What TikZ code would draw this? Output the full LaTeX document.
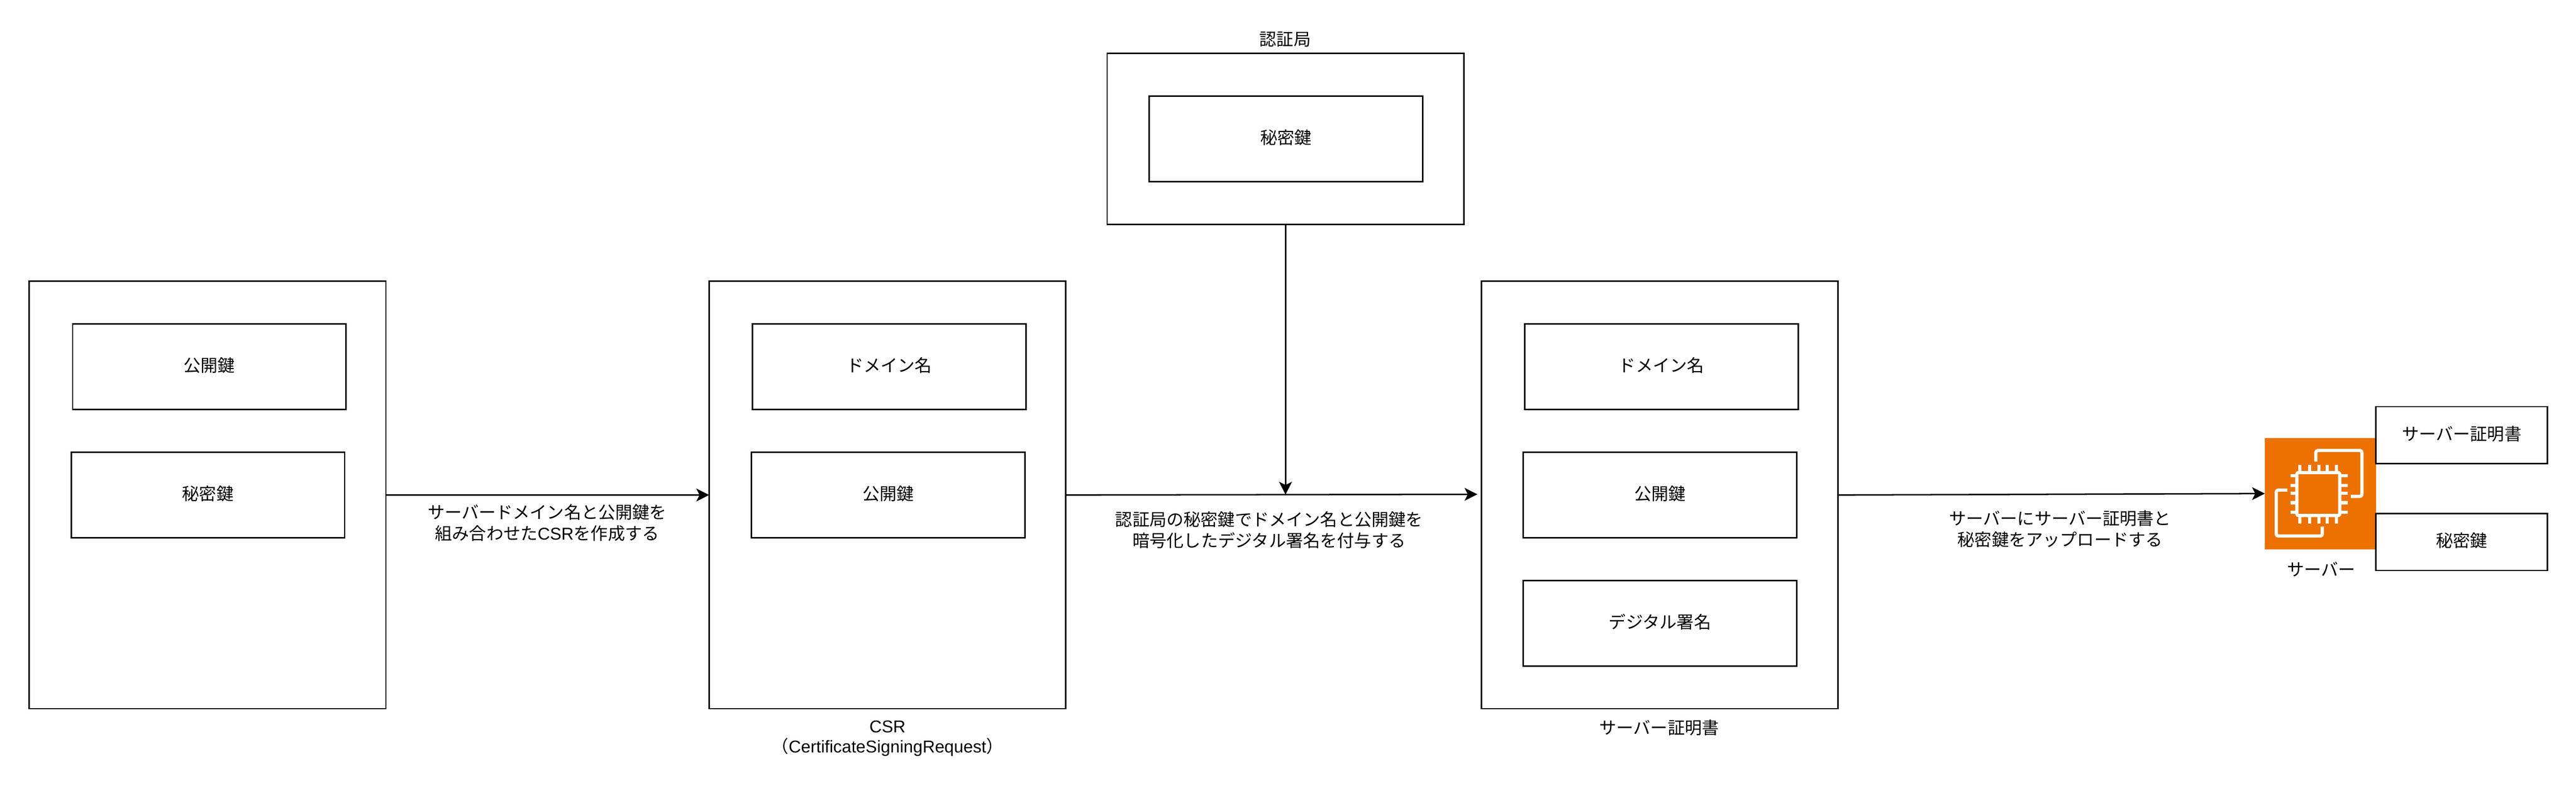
\documentclass[tikz,border=0pt]{standalone}
\usepackage{fontspec}
\setmainfont{Noto Sans CJK JP}
\newfontfamily\latf{Liberation Sans}
\usetikzlibrary{arrows.meta}
\definecolor{awsorange}{HTML}{ED7100}
\tikzset{
  boxfr/.style={draw=black,fill=white,line width=0.04cm,inner sep=0pt,outer sep=0pt,anchor=north west,
    font=\fontsize{13.66}{17}\selectfont},
  lbl/.style={inner sep=0pt,outer sep=0pt,align=center,font=\fontsize{13.66}{17}\selectfont},
  arr/.style={draw=black,line width=0.04cm,-{Stealth[length=0.36cm,width=0.36cm,inset=0.09cm]}},
  chip/.style={draw=white,line width=0.09cm,line join=round},
}
\newcommand{\bx}[6]{\node[boxfr,minimum width=#4cm,minimum height=#5cm] (#1) at (#2,#3) {\raisebox{0.12cm}{#6}};}
\begin{document}
\begin{tikzpicture}
\useasboundingbox (0,0) rectangle (72.36,-22.12);
% Left box
\bx{kp}{0.82}{-7.90}{10.02}{12}{}
\bx{kpa}{2.04}{-9.10}{7.68}{2.4}{公開鍵}
\bx{kpb}{2.00}{-12.70}{7.68}{2.4}{秘密鍵}
% CSR
\bx{csr}{19.92}{-7.90}{10.02}{12}{}
\bx{csra}{21.14}{-9.10}{7.68}{2.4}{ドメイン名}
\bx{csrb}{21.11}{-12.70}{7.68}{2.4}{公開鍵}
\node[lbl] (csrl) at (24.93,-20.74) {{\latf CSR}\\[-1pt]（{\latf CertificateSigningRequest}）};
% CA
\bx{ca}{31.10}{-1.50}{10.02}{4.8}{}
\bx{caa}{32.28}{-2.70}{7.68}{2.4}{秘密鍵}
\node[lbl] (cal) at (36.10,-1.10) {認証局};
% Cert
\bx{crt}{41.61}{-7.90}{10.02}{12}{}
\bx{crta}{42.83}{-9.10}{7.68}{2.4}{ドメイン名}
\bx{crtb}{42.79}{-12.70}{7.68}{2.4}{公開鍵}
\bx{crtc}{42.79}{-16.30}{7.68}{2.4}{デジタル署名}
\node[lbl] (crtl) at (46.61,-20.43) {サーバー証明書};
% Server icon
\node[fill=awsorange,minimum size=3.12cm,inner sep=0pt,outer sep=0pt,anchor=north west] (srv) at (63.62,-12.30) {};
\begin{scope}[yscale=-1,x=0.01cm,y=0.01cm]
  \draw[chip,rounded corners=0.045cm] (6455.5,1327.8) rectangle (6576.2,1448.5);
  \foreach \px in {6464.5,6491.3,6518,6540.3,6567}{
    \draw[chip] (\px,1305.7) -- (\px,1327.8);
    \draw[chip] (\px,1448.5) -- (\px,1470.7);
  }
  \foreach \py in {1336.7,1363.7,1386,1412.7,1439.3}{
    \draw[chip] (6437.7,\py) -- (6455.5,\py);
    \draw[chip] (6576.2,\py) -- (6598.3,\py);
  }
  \draw[chip,rounded corners=0.055cm] (6509,1297) -- (6509,1265.7) -- (6638.3,1265.7) -- (6638.3,1394.7) -- (6607.3,1394.7);
  \draw[chip,rounded corners=0.055cm] (6428.7,1377) -- (6397.7,1377) -- (6397.7,1506) -- (6527,1506) -- (6527,1479.3);
\end{scope}
\node[lbl] (srvl) at (65.20,-15.99) {サーバー};
\bx{sca}{66.74}{-11.42}{4.82}{1.6}{サーバー証明書}
\bx{scb}{66.74}{-14.42}{4.82}{1.6}{秘密鍵}
% Connectors
\coordinate (join) at (ca.south |- 0,-13.89);
\coordinate (crtin) at (41.50,-13.88);
\draw[arr] (kp.east) -- (csr.west);
\draw[arr] (csr.east) -- (join) -- (crtin);
\draw[arr] (ca.south) -- (join);
\draw[arr] (crt.east) -- (srv.west);
% Connector labels
\node[lbl] (la) at (15.37,-14.68) {サーバードメイン名と公開鍵を\\組み合わせた{\latf CSR}を作成する};
\node[lbl] (lb) at (35.65,-14.88) {認証局の秘密鍵でドメイン名と公開鍵を\\暗号化したデジタル署名を付与する};
\node[lbl] (lc) at (57.87,-14.85) {サーバーにサーバー証明書と\\秘密鍵をアップロードする};
\end{tikzpicture}
\end{document}
